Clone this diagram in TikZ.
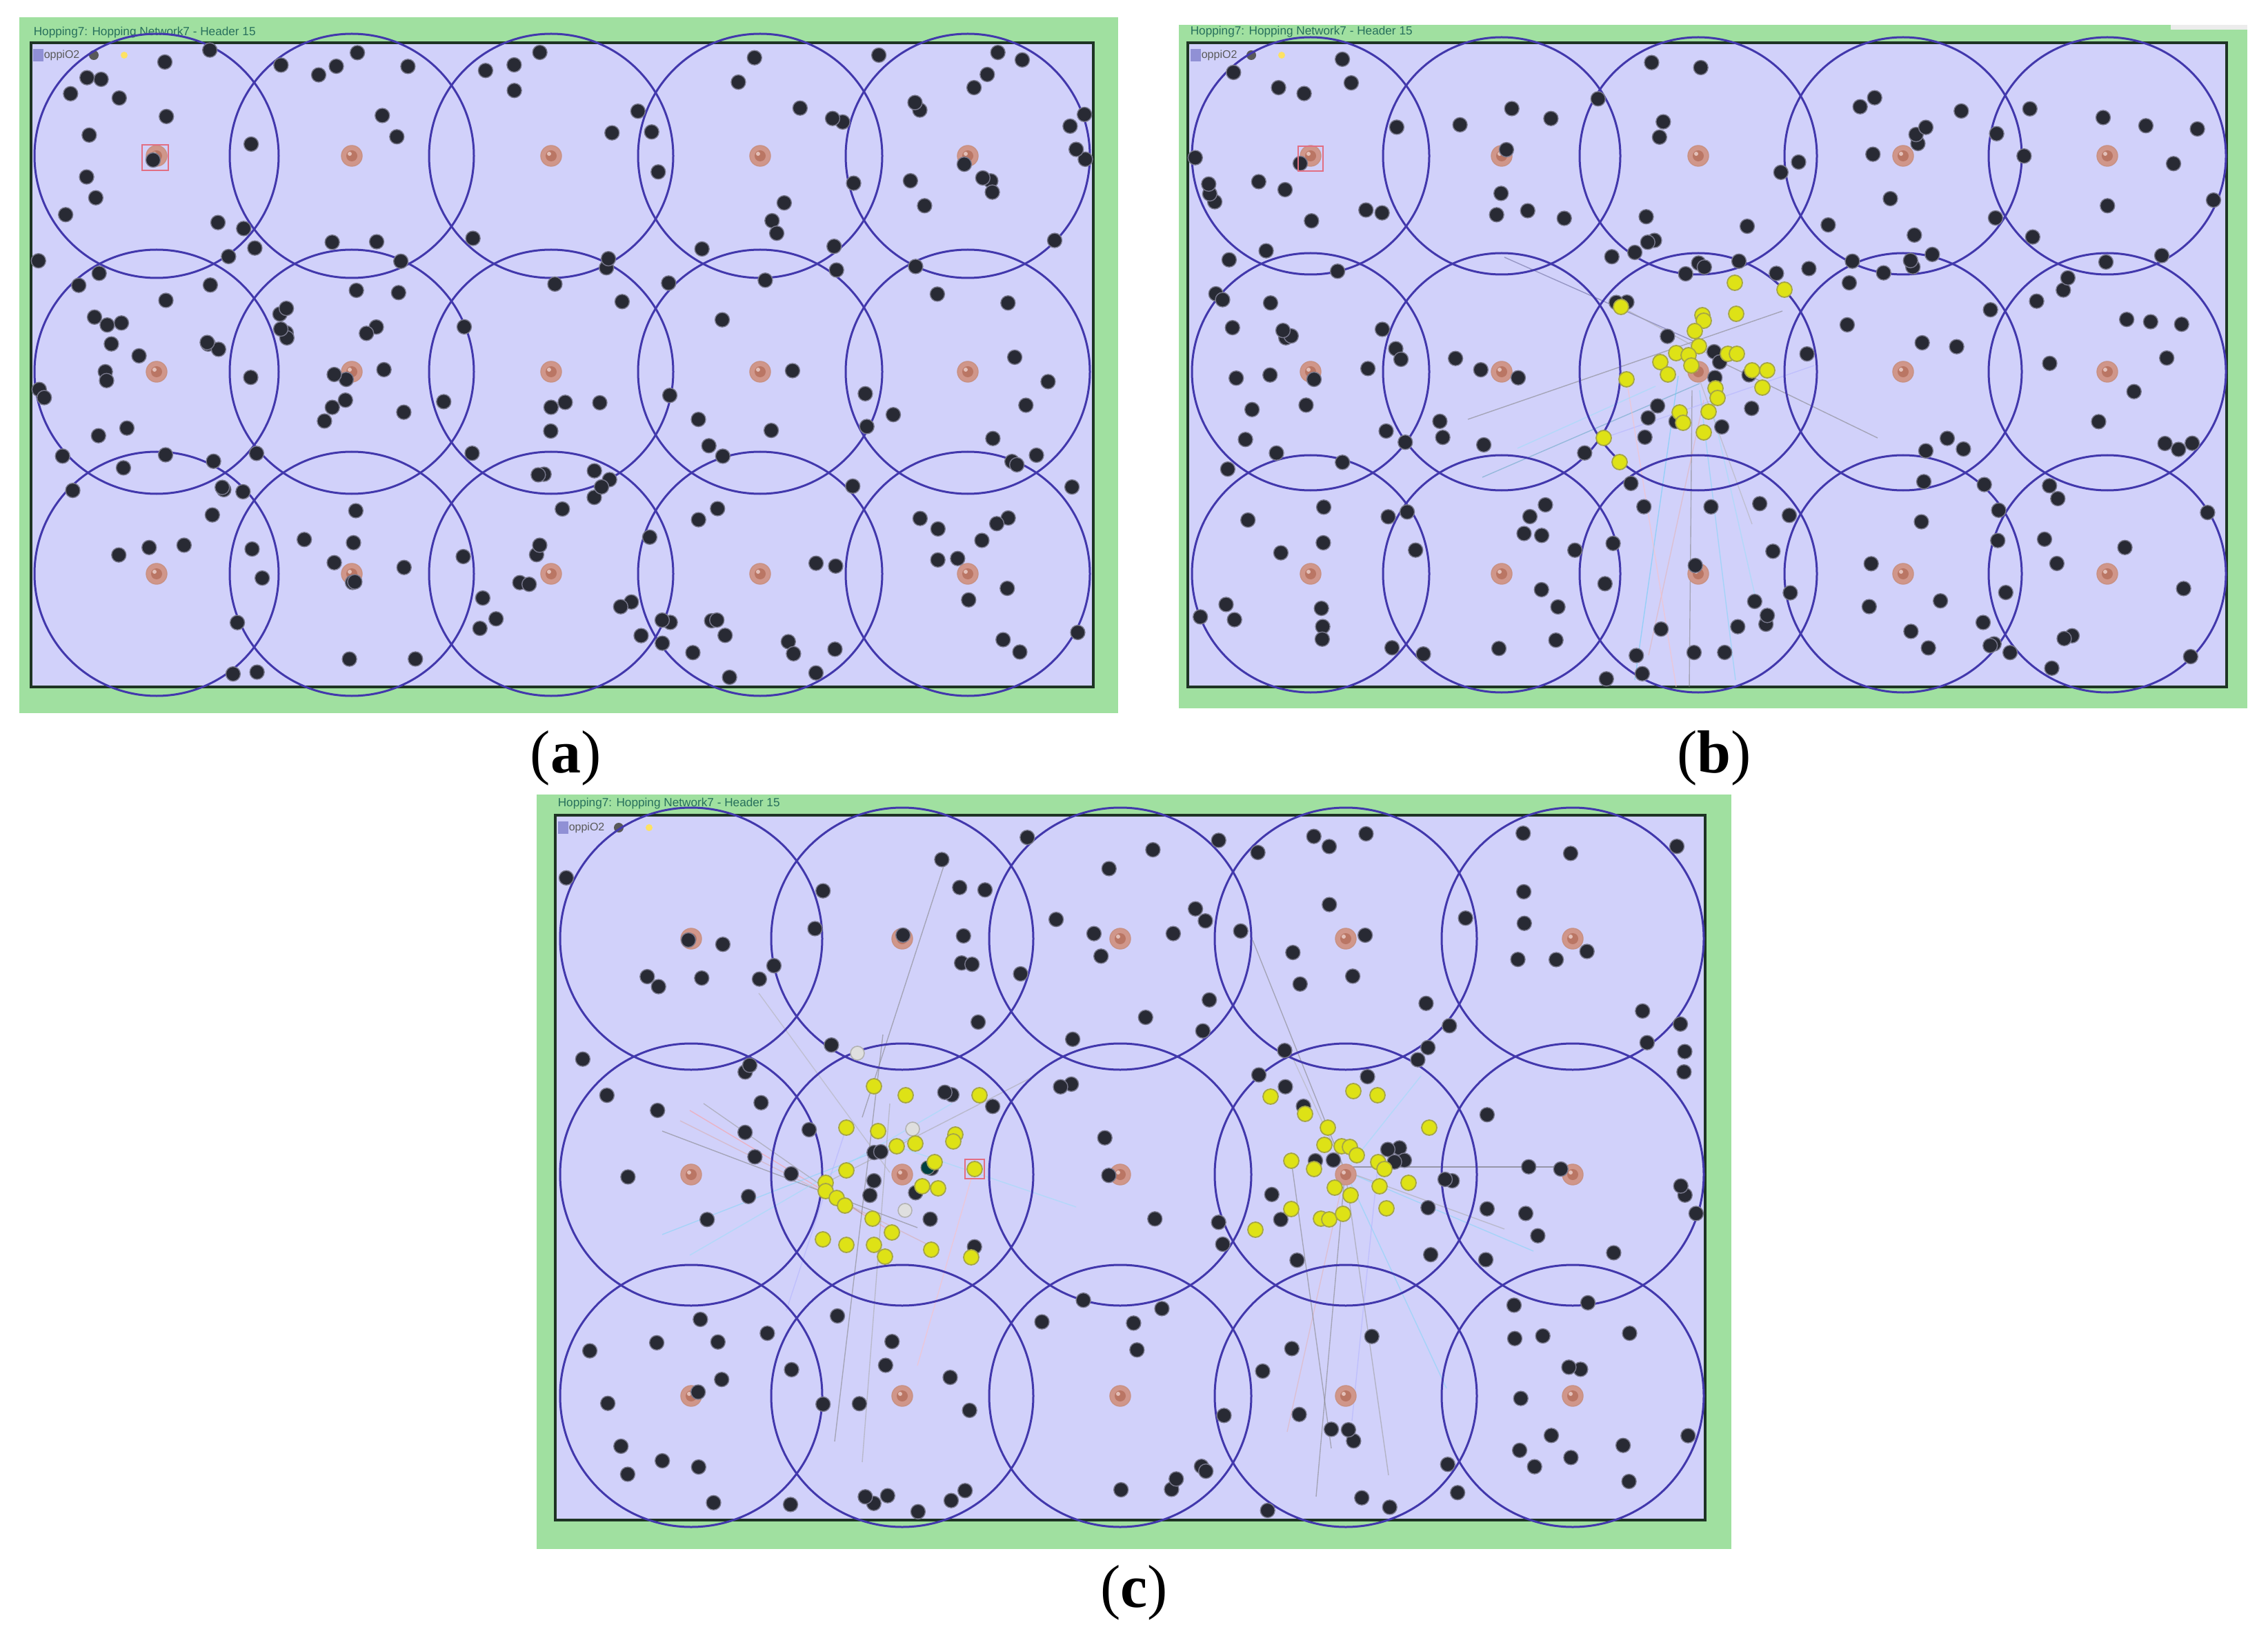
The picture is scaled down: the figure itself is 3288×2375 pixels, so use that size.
\documentclass[tikz,border=0pt]{standalone}
\usepackage{fontspec}
\setmainfont{Liberation Serif}
\newfontfamily\uisans{Liberation Sans}
\definecolor{bggreen}{RGB}{160,224,160}
\definecolor{lav}{RGB}{209,209,250}
\definecolor{ring}{RGB}{66,56,172}
\definecolor{framec}{RGB}{30,52,36}
\definecolor{dotk}{RGB}{40,42,52}
\definecolor{dotedge}{RGB}{120,120,140}
\definecolor{sinkc}{RGB}{208,150,138}
\definecolor{sinkd}{RGB}{186,118,100}
\definecolor{ydot}{RGB}{222,226,22}
\definecolor{yedge}{RGB}{165,165,70}
\definecolor{titlec}{RGB}{40,112,92}
\definecolor{redsq}{RGB}{226,110,130}
\tikzset{
  cellring/.style={draw=ring, line width=0.75pt},
  blk/.style={fill=dotk, draw=dotedge, line width=0.35pt},
  yel/.style={fill=ydot, draw=yedge, line width=0.45pt},
  pale/.style={fill=gray!25, draw=gray!60, line width=0.4pt},
  trace/.style={line width=0.35pt, opacity=0.55},
  paneltitle/.style={anchor=west, inner sep=0pt, text=titlec, font=\uisans\fontsize{4.3}{5}\selectfont},
  sublabel/.style={font=\fontsize{22}{26}\selectfont, inner sep=0pt},
}
\newcommand\SinkAt[2]{\fill[sinkc, draw=sinkd!80, line width=0.35pt] (#1,#2) circle (15); \fill[sinkd] (#1,#2) circle (8); \fill[sinkc!60!white] (#1-3,#2-3) circle (3);}
\newcommand\BlkAt[2]{\fill[blk] (#1,#2) circle (10.5);}
\newcommand\YelAt[2]{\fill[yel] (#1,#2) circle (11);}
\newcommand\ToolBar[2]{%
  \fill[blue!45!gray!60] (#1,#2) rectangle ++(15,18);
  \node[anchor=west, inner sep=0pt, text=gray!70!black, font=\uisans\fontsize{4}{5}\selectfont] at (#1+15,#2+9) {oppiO2};
  \fill[gray!70!black] (#1+88,#2+9) circle (7);
  \fill[yellow!70!orange!60] (#1+132,#2+9) circle (5);
}
\begin{document}
\begin{tikzpicture}[x=0.25pt, y=-0.25pt]
\useasboundingbox (0,0) rectangle (3288,2375);
\fill[white] (0,0) rectangle (3288,2375);

% ---------------- Panel (a) ----------------
\fill[bggreen] (28,25) rectangle (1621,1034);
\fill[lav] (45,62) rectangle (1585,996);
\draw[framec, line width=1pt] (45,62) rectangle (1585,996);
\node[paneltitle] at (48,47) {Hopping7: Hopping Network7 - Header 15};
\ToolBar{48}{71}
\foreach \cx in {227,510,799,1102,1403}
  \foreach \cy in {226,539,832}
    \draw[cellring] (\cx,\cy) circle (177);
\foreach \cx in {227,510,799,1102,1403}
  \foreach \cy in {226,539,832}
    {\SinkAt{\cx}{\cy}}
\pgfmathsetseed{4242}
\foreach \k in {1,...,210}{
  \pgfmathsetmacro\px{55+1520*rnd}
  \pgfmathsetmacro\py{72+915*rnd}
  \BlkAt{\px}{\py}
}
\BlkAt{222}{232}
\draw[redsq, line width=0.4pt] (206,210) rectangle (244,247);

% ---------------- Panel (b) ----------------
\fill[bggreen] (1709,36) rectangle (3258,1027);
\fill[white!85!gray] (3147,36) rectangle (3258,43);
\fill[lav] (1722,62) rectangle (3228,996);
\draw[framec, line width=1pt] (1722,62) rectangle (3228,996);
\node[paneltitle] at (1725,46) {Hopping7: Hopping Network7 - Header 15};
\ToolBar{1726}{71}
% traces
\draw[trace, gray] (2128,608) -- (2584,451);
\draw[trace, gray!80!blue] (2181,373) -- (2474,503);
\draw[trace, cyan!50!gray] (2149,692) -- (2464,556);
\draw[trace, cyan!60] (2433,545) -- (2370,986);
\draw[trace, gray] (2453,566) -- (2449,996);
\draw[trace, cyan!50] (2464,566) -- (2516,986);
\draw[trace, pink!80!gray] (2470,580) -- (2390,950);
\draw[trace, cyan!40] (2475,560) -- (2548,880);
\draw[trace, gray] (2485,520) -- (2722,635);
\draw[trace, blue!30] (2325,635) -- (2630,530);
\draw[trace, pink] (2358,550) -- (2430,996);
\draw[trace, gray!70] (2350,445) -- (2480,515);
\draw[trace, cyan!40] (2200,650) -- (2400,560);
\draw[trace, gray!60] (2460,540) -- (2540,760);
\foreach \cx in {1900,2177,2462,2759,3055}
  \foreach \cy in {226,539,832}
    \draw[cellring] (\cx,\cy) circle (172);
\foreach \cx in {1900,2177,2462,2759,3055}
  \foreach \cy in {226,539,832}
    {\SinkAt{\cx}{\cy}}
\pgfmathsetseed{9137}
\foreach \k in {1,...,205}{
  \pgfmathsetmacro\px{1732+1487*rnd}
  \pgfmathsetmacro\py{72+915*rnd}
  \BlkAt{\px}{\py}
}
\BlkAt{1885}{237}
\draw[redsq, line width=0.4pt] (1882,212) rectangle (1918,248);
\BlkAt{2485}{510}
\BlkAt{2493}{525}
\foreach \p/\q in {2350/445, 2515/410, 2587/420, 2517/455, 2468/457, 2470/465,
  2457/480, 2463/502, 2430/512, 2448/515, 2407/525, 2452/530, 2418/543,
  2505/513, 2518/513, 2540/537, 2562/537, 2555/562, 2358/550, 2487/563,
  2490/577, 2477/597, 2435/598, 2440/613, 2470/627, 2325/635, 2348/670}
  {\YelAt{\p}{\q}}

% ---------------- Panel (c) ----------------
\fill[bggreen] (778,1152) rectangle (2510,2246);
\fill[lav] (805,1182) rectangle (2472,2204);
\draw[framec, line width=1pt] (805,1182) rectangle (2472,2204);
\node[paneltitle] at (808,1165) {Hopping7: Hopping Network7 - Header 15};
\ToolBar{809}{1191}
% traces left cluster
\draw[trace, pink!70!gray] (986,1625) -- (1342,1803);
\draw[trace, gray] (960,1640) -- (1330,1780);
\draw[trace, red!40] (1000,1610) -- (1300,1790);
\draw[trace, gray!80] (1020,1600) -- (1250,1760);
\draw[trace, cyan!50] (960,1790) -- (1320,1650);
\draw[trace, cyan!40] (1000,1820) -- (1380,1600);
\draw[trace, gray] (1280,1500) -- (1210,2090);
\draw[trace, gray!70] (1290,1600) -- (1250,2120);
\draw[trace, gray] (1250,1620) -- (1370,1250);
\draw[trace, gray!60] (1290,1700) -- (1100,1440);
\draw[trace, pink] (1412,1695) -- (1330,1980);
\draw[trace, blue!30] (1227,1635) -- (1140,1900);
\draw[trace, gray!70] (1197,1715) -- (1500,1560);
\draw[trace, cyan!40] (1300,1662) -- (1560,1750);
% traces right cluster
\draw[trace, gray] (1816,1363) -- (1950,1698);
\draw[trace, gray] (1950,1698) -- (1908,2170);
\draw[trace, gray!80] (1950,1698) -- (2013,2139);
\draw[trace, pink!80!gray] (1950,1698) -- (1866,2076);
\draw[trace, cyan!50] (1950,1698) -- (2097,2013);
\draw[trace, gray!80!black] (1950,1692) -- (2265,1692);
\draw[trace, cyan!50] (1950,1698) -- (2223,1814);
\draw[trace, gray!70] (1950,1698) -- (2181,1782);
\draw[trace, gray!60] (1950,1698) -- (1870,1525);
\draw[trace, cyan!40] (1950,1698) -- (2060,1560);
\draw[trace, gray] (1872,1683) -- (1930,2100);
\draw[trace, blue!30] (1998,1685) -- (1960,2060);
\foreach \cx in {1002,1308,1624,1951,2280}
  \foreach \cy in {1361,1703,2024}
    \draw[cellring] (\cx,\cy) circle (190);
\foreach \cx in {1002,1308,1624,1951,2280}
  \foreach \cy in {1361,1703,2024}
    {\SinkAt{\cx}{\cy}}
\pgfmathsetseed{5521}
\foreach \k in {1,...,180}{
  \pgfmathsetmacro\px{815+1647*rnd}
  \pgfmathsetmacro\py{1192+1002*rnd}
  \BlkAt{\px}{\py}
}
\BlkAt{998}{1363}
\foreach \p/\q in {1173/1638, 1277/1670, 1267/1712, 1147/1702, 1907/1683, 1933/1682, 2095/1710}
  {\BlkAt{\p}{\q}}
\foreach \p/\q in {1323/1637, 1312/1755, 1243/1527}
  {\fill[pale] (\p,\q) circle (10);}
\fill[fill=teal!50!black, draw=gray, line width=0.3pt] (1345,1693) circle (10);
\foreach \p/\q in {1267/1575, 1313/1588, 1420/1588, 1227/1635, 1273/1640,
  1300/1662, 1327/1658, 1385/1645, 1382/1655, 1355/1685, 1227/1697,
  1197/1715, 1197/1727, 1213/1737, 1225/1748, 1337/1720, 1360/1723,
  1265/1767, 1293/1787, 1193/1797, 1227/1805, 1267/1805, 1283/1822,
  1350/1812, 1408/1823, 1413/1695}
  {\YelAt{\p}{\q}}
\draw[redsq, line width=0.5pt] (1399,1681) rectangle (1427,1709);
\foreach \p/\q in {1842/1590, 1962/1582, 1997/1588, 1892/1615, 1925/1635,
  1920/1660, 1945/1662, 1957/1663, 1967/1675, 1872/1683, 1998/1685,
  2007/1695, 2072/1635, 1935/1722, 1958/1733, 2000/1720, 2042/1715,
  2010/1752, 1872/1753, 1915/1767, 1927/1768, 1947/1760, 1820/1783,
  1905/1695}
  {\YelAt{\p}{\q}}

% ---------------- labels ----------------
\node[sublabel] at (820,1099) {(\textbf{a})};
\node[sublabel] at (2485,1099) {(\textbf{b})};
\node[sublabel] at (1644,2309) {(\textbf{c})};
\end{tikzpicture}
\end{document}
